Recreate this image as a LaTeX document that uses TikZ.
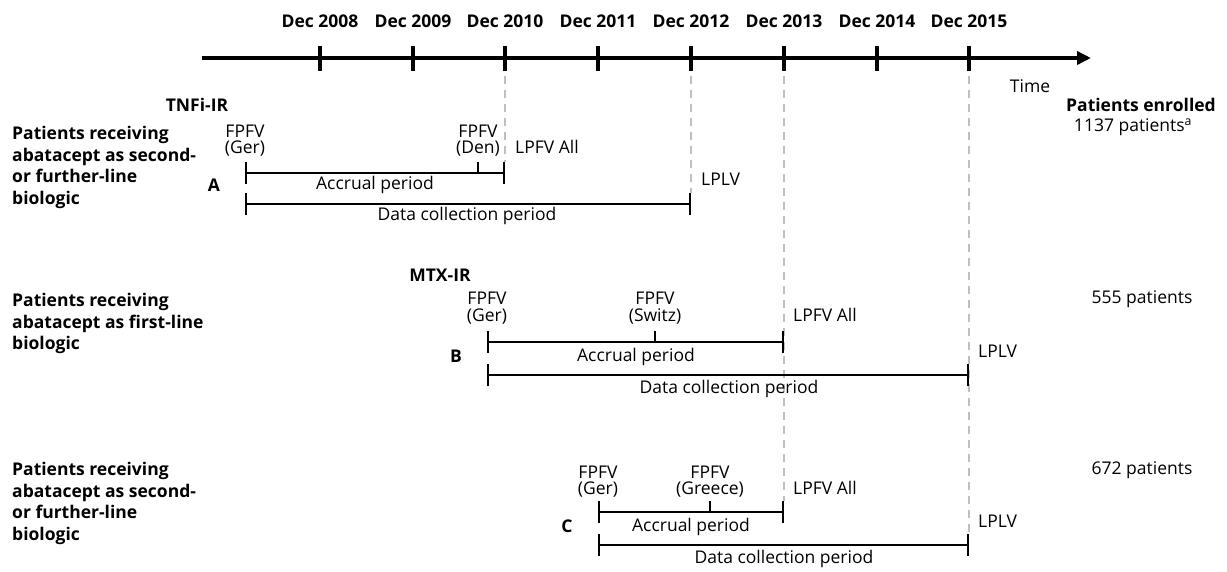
\documentclass[tikz,border=0pt]{standalone}
\usepackage{fontspec}
\setmainfont{Open Sans}
\usetikzlibrary{arrows.meta}
\tikzset{
  lab/.style={font=\fontsize{17.5}{21}\selectfont, inner sep=0pt, text height=12.5pt, text depth=3.5pt},
  hd/.style={font=\bfseries\fontsize{17.5}{21}\selectfont, inner sep=0pt, text height=12.5pt, text depth=3.5pt},
  blk/.style={font=\bfseries\fontsize{17.5}{21.5}\selectfont, inner sep=0pt, align=left, anchor=north west},
  period/.style={line width=2pt, {Bar[width=22pt]}-{Bar[width=22pt]}},
  midtick/.style={line width=2pt},
  vdash/.style={gray!50, line width=1.8pt, dash pattern=on 8pt off 6pt},
  axisline/.style={line width=3.5pt, -{Triangle[length=14pt,width=13pt]}},
  axtick/.style={line width=3.5pt}
}
\begin{document}
\begin{tikzpicture}[x=1pt,y=-1pt]
\useasboundingbox[fill=white] (0,0) rectangle (1227,572);

% axis
\coordinate (ax0) at (202,58);
\coordinate (ax1) at (1091,58);
\draw[axisline] (ax0) -- (ax1);
\foreach \x/\lab in {320/Dec 2008,413/Dec 2009,505/Dec 2010,598/Dec 2011,691/Dec 2012,784/Dec 2013,877/Dec 2014,969/Dec 2015}{
  \draw[axtick] (\x,46) -- (\x,71);
  \node[hd] at (\x,23.5) {\lab};
}
\node[lab] (time) at (1030,88.5) {Time};
\node[hd] (enr) at (1141,107.5) {Patients enrolled};

% dashed guides
\coordinate (g1) at (505,76); \coordinate (g1e) at (505,162);
\coordinate (g2) at (691,76); \coordinate (g2e) at (691,193);
\coordinate (g3) at (784,76); \coordinate (g3e) at (784,501);
\coordinate (g4) at (969,76); \coordinate (g4e) at (969,534);
\draw[vdash] (g1) -- (g1e);
\draw[vdash] (g2) -- (g2e);
\draw[vdash] (g3) -- (g3e);
\draw[vdash] (g4) -- (g4e);

% ---------- A ----------
\node[hd] (tnfi) at (197,107.5) {TNFi-IR};
\node[blk] (ta) at (12,126.5) {\rule{0pt}{13pt}Patients receiving\\abatacept as second-\\or further-line\\biologic};
\node[lab] (fa1) at (245,133.5) {FPFV};
\node[lab] (fa1b) at (245,149.5) {(Ger)};
\node[lab] (fa2) at (478,133.5) {FPFV};
\node[lab] (fa2b) at (478,149.5) {(Den)};
\node[lab, anchor=west] (la1) at (515,149.5) {LPFV All};
\node[hd] (A) at (214,187.5) {A};
\coordinate (aS) at (245,173); \coordinate (aD) at (478,173); \coordinate (aE) at (505,173);
\draw[period] (aS) -- (aE);
\draw[midtick] (aD) -- ++(0,-11);
\node[lab] (aacc) at (375,185.5) {Accrual period};
\coordinate (dS) at (245,204); \coordinate (dE) at (691,204);
\draw[period] (dS) -- (dE);
\node[lab, anchor=west] (la2) at (701,181.5) {LPLV};
\node[lab] (adat) at (467,216.5) {Data collection period};
\node[lab] (pa) at (1133,127.5) {1137 patients\textsuperscript{a}};

% ---------- B ----------
\node[hd] (mtx) at (440,277.5) {MTX-IR};
\node[blk] (tb) at (12,293.5) {\rule{0pt}{13pt}Patients receiving\\abatacept as first-line\\biologic};
\node[lab] (fb1) at (487,300.5) {FPFV};
\node[lab] (fb1b) at (487,317.5) {(Ger)};
\node[lab] (fb2) at (655,300.5) {FPFV};
\node[lab] (fb2b) at (655,317.5) {(Switz)};
\node[lab, anchor=west] (lb1) at (793,317.5) {LPFV All};
\node[hd] (B) at (456,357.5) {B};
\coordinate (bS) at (487,342); \coordinate (bD) at (655,342); \coordinate (bE) at (784,342);
\draw[period] (bS) -- (bE);
\draw[midtick] (bD) -- ++(0,-11);
\node[lab] (bacc) at (636,356.5) {Accrual period};
\coordinate (eS) at (487,375); \coordinate (eE) at (969,375);
\draw[period] (eS) -- (eE);
\node[lab, anchor=west] (lb2) at (978,352.5) {LPLV};
\node[lab] (bdat) at (729,388.5) {Data collection period};
\node[lab] (pb) at (1142,299.5) {555 patients};

% ---------- C ----------
\node[blk] (tc) at (12,462.5) {\rule{0pt}{13pt}Patients receiving\\abatacept as second-\\or further-line\\biologic};
\node[lab] (fc1) at (598,473.5) {FPFV};
\node[lab] (fc1b) at (598,489.5) {(Ger)};
\node[lab] (fc2) at (710,473.5) {FPFV};
\node[lab] (fc2b) at (710,489.5) {(Greece)};
\node[lab, anchor=west] (lc1) at (793,489.5) {LPFV All};
\node[hd] (C) at (567,527.5) {C};
\coordinate (cS) at (598,512); \coordinate (cD) at (710,512); \coordinate (cE) at (784,512);
\draw[period] (cS) -- (cE);
\draw[midtick] (cD) -- ++(0,-11);
\node[lab] (cacc) at (691,526.5) {Accrual period};
\coordinate (fS) at (598,545); \coordinate (fE) at (969,545);
\draw[period] (fS) -- (fE);
\node[lab, anchor=west] (lc2) at (978,522.5) {LPLV};
\node[lab] (cdat) at (784,558.5) {Data collection period};
\node[lab] (pc) at (1142,469.5) {672 patients};
\end{tikzpicture}
\end{document}
